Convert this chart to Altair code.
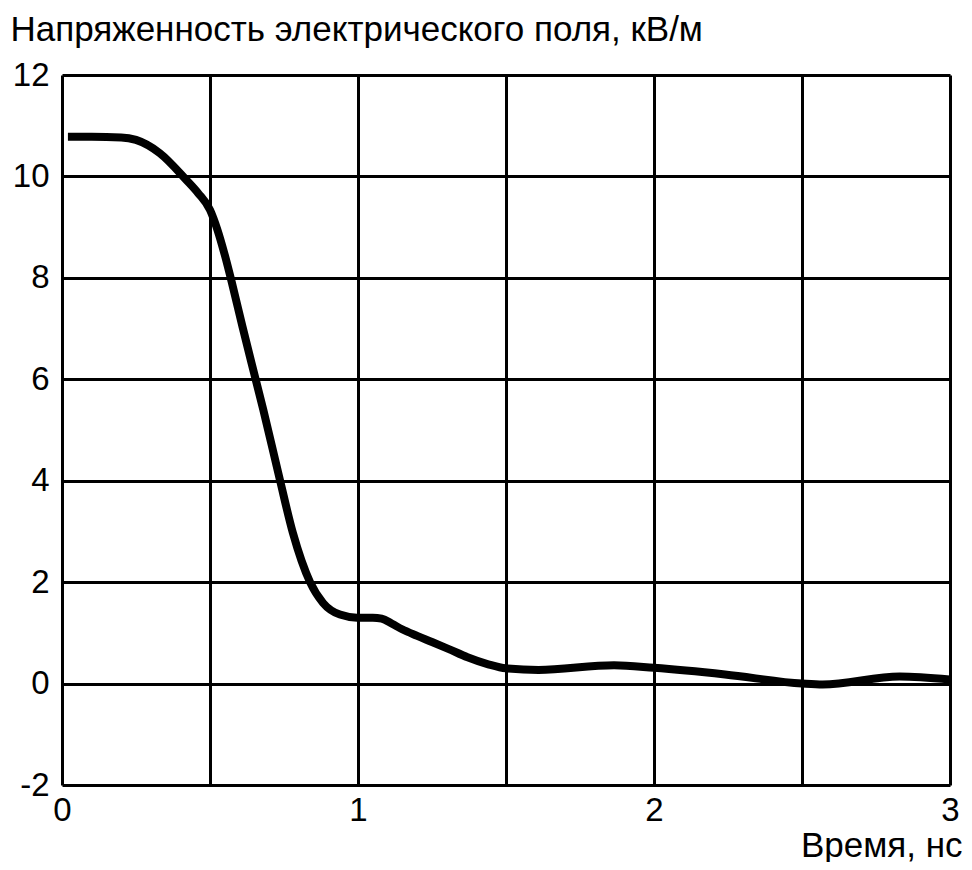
import altair as alt
import pandas as pd

# Time, ns
t_ns = [0.02, 0.1, 0.2, 0.25, 0.33, 0.42, 0.46, 0.5, 0.525, 0.55, 0.575, 0.61, 0.652, 0.68,
        0.736, 0.78, 0.838, 0.882, 0.939, 0.997, 1.05, 1.08, 1.115, 1.149, 1.2, 1.25, 1.307,
        1.37, 1.44, 1.5, 1.61, 1.865, 2.0, 2.24, 2.5, 2.57, 2.83, 3.0]
# Electric field strength, kV/m
e_kvm = [10.78, 10.78, 10.77, 10.72, 10.46, 9.93, 9.67, 9.34, 8.95, 8.45, 7.88, 7.03, 6.05, 5.4,
         4.02, 2.97, 2.0, 1.59, 1.36, 1.30, 1.30, 1.28, 1.18, 1.07, 0.94, 0.82, 0.68,
         0.52, 0.38, 0.30, 0.27, 0.36, 0.31, 0.18, 0.0, -0.02, 0.14, 0.08]

x_grid = [0, 0.5, 1, 1.5, 2, 2.5, 3]
y_ticks = [-2, 0, 2, 4, 6, 8, 10, 12]

y_title = "Напряженность электрического поля, кВ/м"
x_title = "Время, нс"

df = pd.DataFrame({"t": t_ns, "e": e_kvm})

FONT = "Liberation Sans"

chart = alt.Chart(df).mark_line(
    color="black", strokeWidth=8, interpolate="monotone", strokeCap="butt", clip=True
).encode(
    x=alt.X("t:Q", scale=alt.Scale(domain=[0, 3], nice=False, zero=False),
            axis=alt.Axis(values=x_grid,
                          labelExpr="datum.value % 1 == 0 ? '' + datum.value : ''",
                          grid=True, gridColor="black", gridWidth=3, gridOpacity=1,
                          domain=False, ticks=False, labelFont=FONT, labelFontSize=33,
                          labelColor="black", labelPadding=9, labelFlush=False,
                          labelOverlap=False,
                          title=x_title, titleFont=FONT, titleFontSize=35,
                          titleFontWeight="normal", titleColor="black",
                          titleAlign="right", titleBaseline="alphabetic",
                          titleX=900, titleY=71, titleAnchor="end")),
    y=alt.Y("e:Q", scale=alt.Scale(domain=[-2, 12], nice=False, zero=False),
            axis=alt.Axis(values=y_ticks,
                          labelExpr="datum.value < 0 ? '-' + abs(datum.value) : '' + datum.value",
                          grid=True, gridColor="black", gridWidth=3,
                          gridOpacity=1, domain=False, ticks=False, labelFont=FONT,
                          labelFontSize=33, labelColor="black", labelPadding=13,
                          labelFlush=False, labelOverlap=False,
                          title=y_title, titleFont=FONT, titleFontSize=35,
                          titleFontWeight="normal", titleColor="black",
                          titleAngle=0, titleAlign="left", titleBaseline="alphabetic",
                          titleX=-52, titleY=-35, titleAnchor="start")),
).properties(
    width=888, height=710,
    autosize=alt.AutoSizeParams(type="none"),
    padding={"left": 54, "top": 67, "right": 14, "bottom": 77},
).configure_view(
    stroke="black", strokeWidth=3
).configure(background="white")

chart.save("out.html", embed_options={"renderer": "svg", "actions": False})
